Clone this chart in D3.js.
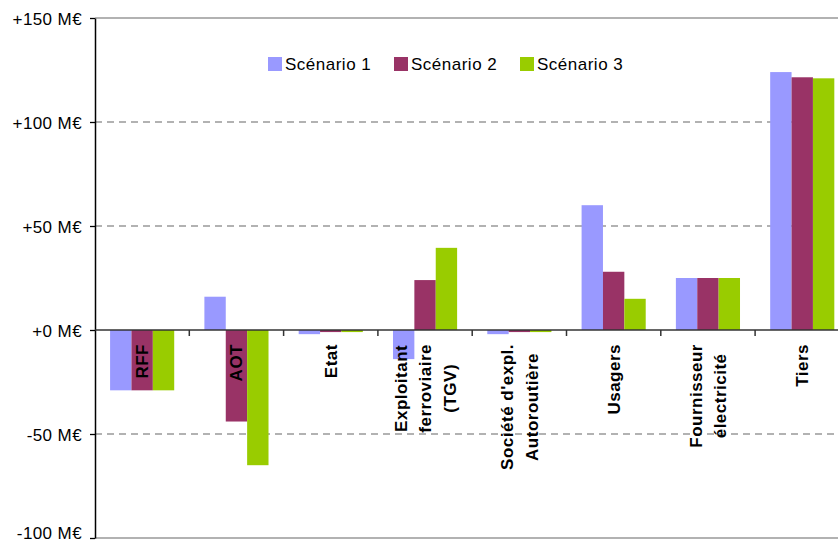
<!DOCTYPE html>
<head>
<meta charset="utf-8">
<script src="https://d3js.org/d3.v7.min.js"></script>
<style>
  body { margin: 0; background: #fff; }
  text { font-family: "Liberation Sans", Arial, sans-serif; fill: #000; }
</style>
</head>
<body>
<div id="my_dataviz"></div>

<script>
    // categories (lines of each label) and series values, in M€
    var categories = [
        ["RFF"],
        ["AOT"],
        ["Etat"],
        ["Exploitant", "ferroviaire", "(TGV)"],
        ["Société d'expl.", "Autoroutière"],
        ["Usagers"],
        ["Fournisseur", "électricité"],
        ["Tiers"]
    ];
    var seriesNames = ["Scénario 1", "Scénario 2", "Scénario 3"];
    var scenario1 = [-29, 16, -2, -14, -2, 60, 25, 124];
    var scenario2 = [-29, -44, -1, 24, -1, 28, 25, 121.5];
    var scenario3 = [-29, -65, -1, 39.5, -1, 15, 25, 121];
    var yTicks = [-100, -50, 0, 50, 100, 150];
    var yTickLabels = ["-100 M€", "-50 M€", "+0 M€", "+50 M€", "+100 M€", "+150 M€"];

    var colors = ["#9999ff", "#993366", "#99cc00"];
    var series = [scenario1, scenario2, scenario3];

    var W = 838, H = 545;
    var plotLeft = 95, plotTop = 18, plotBottom = 538;
    var step = 94.3;

    var svg = d3.select("#my_dataviz")
      .append("svg")
        .attr("width", W)
        .attr("height", H);

    var ids = categories.map(function(d, i) { return i; });
    var x = d3.scaleBand()
        .domain(ids)
        .range([plotLeft, plotLeft + step * categories.length])
        .paddingInner(0.32)
        .paddingOuter(0.16);
    var xs = d3.scaleBand()
        .domain([0, 1, 2])
        .range([0, x.bandwidth()]);
    var y = d3.scaleLinear()
        .domain([-100, 150])
        .range([plotBottom, plotTop]);

    // grid lines
    svg.append("g").selectAll("line")
        .data(yTicks.filter(function(t) { return t != 0; }))
        .enter().append("line")
          .attr("x1", plotLeft).attr("x2", W)
          .attr("y1", function(d) { return y(d); })
          .attr("y2", function(d) { return y(d); })
          .attr("stroke", "#999")
          .attr("stroke-width", 1.3)
          .attr("stroke-dasharray", function(d) { return (d == 150 || d == -100) ? null : "7,5"; });

    // bars
    series.forEach(function(vals, s) {
        svg.append("g").selectAll("rect")
            .data(vals)
            .enter().append("rect")
              .attr("x", function(d, i) { return x(i) + xs(s); })
              .attr("width", xs.bandwidth())
              .attr("y", function(d) { return y(Math.max(0, d)); })
              .attr("height", function(d) { return Math.abs(y(d) - y(0)); })
              .attr("fill", colors[s]);
    });

    // y axis
    svg.append("g")
        .attr("transform", "translate(" + plotLeft + ",0)")
        .call(d3.axisLeft(y).tickValues(yTicks)
              .tickFormat(function(d, i) { return yTickLabels[i]; })
              .tickSize(5).tickSizeOuter(0))
        .call(g => g.select(".domain").attr("stroke", "#000").attr("stroke-width", 1.5))
        .call(g => g.selectAll(".tick line").attr("stroke", "#000").attr("stroke-width", 1.3))
        .call(g => g.selectAll(".tick text")
              .attr("font-size", 17)
              .attr("font-family", "Liberation Sans, Arial, sans-serif")
              .attr("letter-spacing", 0.4)
              .attr("fill", "#000")
              .attr("x", -13)
              .attr("dy", function(d) { return d == -100 ? "0.05em" : "0.36em"; }));

    // zero line with category separator ticks
    svg.append("line")
        .attr("x1", plotLeft).attr("x2", W)
        .attr("y1", y(0)).attr("y2", y(0))
        .attr("stroke", "#333").attr("stroke-width", 1.5);
    svg.append("g").selectAll("line")
        .data(ids.slice(1))
        .enter().append("line")
          .attr("x1", function(d) { return x(d) - x.step() * x.paddingInner() / 2; })
          .attr("x2", function(d) { return x(d) - x.step() * x.paddingInner() / 2; })
          .attr("y1", y(0)).attr("y2", y(0) + 6)
          .attr("stroke", "#333").attr("stroke-width", 1.5);

    // category labels, rotated, lines centred inside a block hanging from the axis
    var labelTop = y(0) + 14;
    var lineGap = 24.5;
    categories.forEach(function(lines, i) {
        var cx = x(i) + x.bandwidth() / 2;
        var g = svg.append("g");
        var texts = g.selectAll("text")
            .data(lines)
            .enter().append("text")
              .text(function(d) { return d; })
              .attr("font-size", 17)
              .attr("font-weight", "bold")
              .attr("letter-spacing", 0.5)
              .attr("text-anchor", "middle");
        var maxLen = d3.max(texts.nodes(), function(n) { return n.getComputedTextLength(); });
        var cy = labelTop + maxLen / 2;
        texts.attr("transform", function(d, j) {
            var lx = cx + (j - (lines.length - 1) / 2) * lineGap + 6;
            return "translate(" + lx + "," + cy + ") rotate(-90)";
        });
    });

    // legend
    var legend = svg.append("g").attr("transform", "translate(268,57)");
    var legX = [0, 126, 252];
    seriesNames.forEach(function(name, i) {
        legend.append("rect")
            .attr("x", legX[i]).attr("y", 0)
            .attr("width", 14).attr("height", 14)
            .attr("fill", colors[i]);
        legend.append("text")
            .attr("x", legX[i] + 17).attr("y", 13)
            .attr("font-size", 17)
            .attr("letter-spacing", 0.5)
            .text(name);
    });
</script>
</body>
